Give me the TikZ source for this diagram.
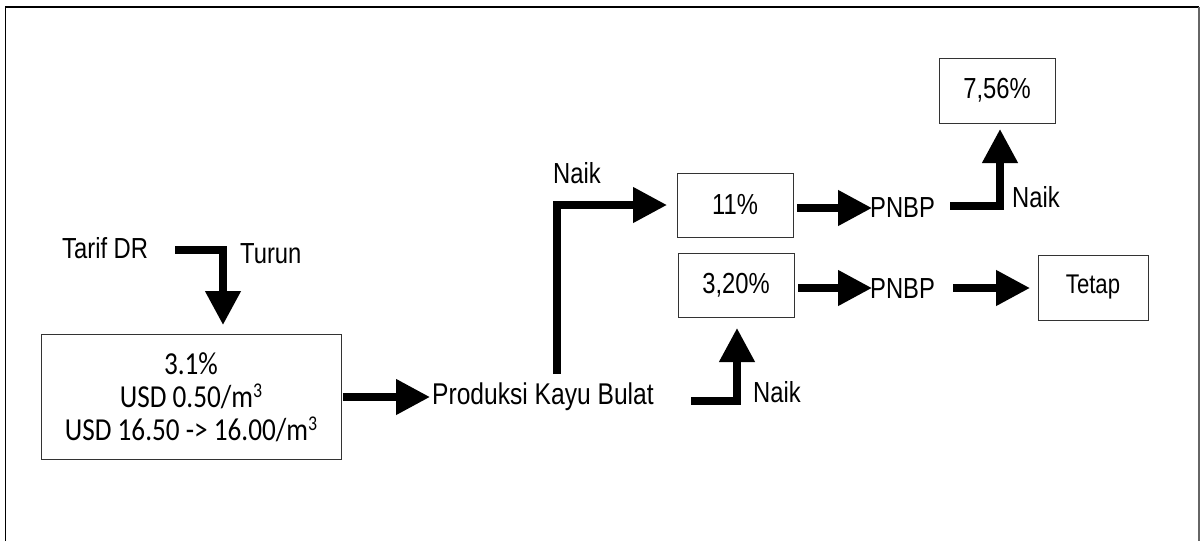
\documentclass[tikz,border=0pt]{standalone}
\usepackage{fontspec}
\newfontfamily\labf[FakeStretch=0.82]{Liberation Sans}
\newfontfamily\calf[FakeStretch=0.85]{Carlito}
\usetikzlibrary{arrows.meta}
\newcommand{\cubed}{\raisebox{10pt}{\fontsize{21}{21}\selectfont 3}}
\begin{document}
\begin{tikzpicture}[x=1pt,y=-1pt,
  lbl/.style={font=\labf\fontsize{29}{30}\selectfont, inner sep=0pt, anchor=base west},
  box/.style={draw=black!80, line width=1pt, inner sep=0pt, font=\labf\fontsize{29}{30}\selectfont},
  bigarrow/.style={line width=7.5pt, -{Triangle[length=34pt,width=34pt]}, line join=miter}]
\useasboundingbox (0,0) rectangle (1204,541);
\draw[line width=1.5pt] (5.5,541) -- (5.5,7) -- (1199,7);
\draw[line width=2pt, black!60] (1199,7) -- (1199,541);

% nodes
\node[lbl] (tarif) at (62,258) {Tarif DR};
\node[lbl] (turun) at (240,263) {Turun};
\node[box, minimum width=300pt, minimum height=125pt, align=center,
      font=\calf\fontsize{32}{33}\selectfont] (dr) at (191,397)
      {3.1\%\\USD 0.50/m\cubed\\USD 16.50 -> 16.00/m\cubed};
\node[lbl, font=\labf\fontsize{30}{30}\selectfont] (prod) at (432,404) {Produksi Kayu Bulat};
\node[lbl] (naik1) at (553,183) {Naik};
\node[box, minimum width=116pt, minimum height=64pt] (p11) at (735,205) {11\%};
\node[box, minimum width=116pt, minimum height=64pt] (p320) at (736,285) {3,20\%\hspace{10pt}};
\node[lbl] (naik2) at (753,402) {Naik};
\node[lbl] (pnbp1) at (870,217) {PNBP};
\node[lbl] (naik3) at (1012,207) {Naik};
\node[lbl] (pnbp2) at (870,298) {PNBP};
\node[box, minimum width=116pt, minimum height=65pt] (p756) at (997,90.5) {7,56\%};
\node[box, minimum width=110pt, minimum height=65pt, font=\labf\fontsize{27}{28}\selectfont] (tetap) at (1093,287.5) {Tetap\hspace{12pt}};

% connector end points
\coordinate (a1s) at (175,250); \coordinate (a1e) at (223,325);
\coordinate (a2s) at (343,397); \coordinate (a2e) at (430,397);
\coordinate (a3s) at (557,374); \coordinate (a3e) at (667,205);
\coordinate (a4s) at (797,208); \coordinate (a4e) at (872,208);
\coordinate (a5s) at (950,206); \coordinate (a5e) at (1000,129);
\coordinate (a6s) at (798,288); \coordinate (a6e) at (872,288);
\coordinate (a7s) at (953,288); \coordinate (a7e) at (1030,288);
\coordinate (a8s) at (691,401); \coordinate (a8e) at (737,328);

\draw[bigarrow] (a1s) -| (a1e);
\draw[bigarrow] (a2s) -- (a2e);
\draw[bigarrow] (a3s) |- (a3e);
\draw[bigarrow] (a4s) -- (a4e);
\draw[bigarrow] (a5s) -| (a5e);
\draw[bigarrow] (a6s) -- (a6e);
\draw[bigarrow] (a7s) -- (a7e);
\draw[bigarrow] (a8s) -| (a8e);
\end{tikzpicture}
\end{document}
